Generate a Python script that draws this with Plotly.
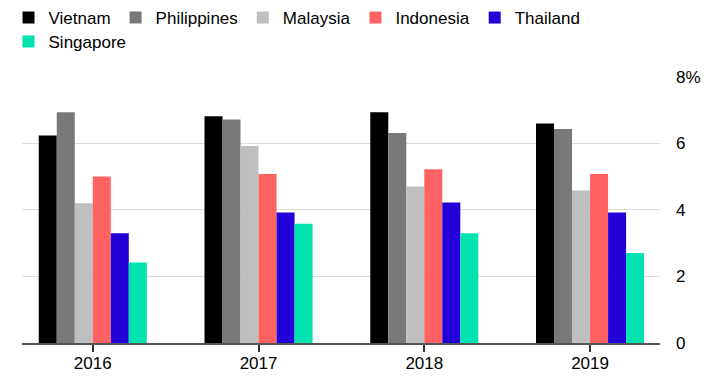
import plotly.graph_objects as go

years = ["2016", "2017", "2018", "2019"]
countries = ["Vietnam", "Philippines", "Malaysia", "Indonesia", "Thailand", "Singapore"]
vietnam = [6.23, 6.81, 6.93, 6.59]
philippines = [6.93, 6.71, 6.31, 6.43]
malaysia = [4.2, 5.92, 4.7, 4.58]
indonesia = [5.0, 5.08, 5.22, 5.08]
thailand = [3.3, 3.92, 4.22, 3.92]
singapore = [2.42, 3.58, 3.3, 2.7]
colors = ["#000000", "#787878", "#bfbfbf", "#ff6262", "#2400d8", "#00e3b0"]
y_tickvals = [0, 2, 4, 6, 8]
y_ticktext = ["0", "2", "4", "6", "8%"]

series = [vietnam, philippines, malaysia, indonesia, thailand, singapore]
FONT = "Liberation Sans, Arial, Helvetica, sans-serif"

fig = go.Figure()
for name, vals, col in zip(countries, series, colors):
    fig.add_trace(go.Bar(
        x=years, y=vals, name=name, marker=dict(color=col, line=dict(width=0)),
        legend="legend2" if name == "Singapore" else "legend",
    ))

fig.update_layout(
    width=710, height=388,
    margin=dict(l=22, r=50, t=76, b=45, autoexpand=False),
    paper_bgcolor="white", plot_bgcolor="white",
    barmode="group", bargap=0.348, bargroupgap=0,
    font=dict(family=FONT, size=17, color="#000000"),
    showlegend=True,
    legend=dict(orientation="h", xref="container", yref="container",
                x=0.012, y=1.0, xanchor="left", yanchor="top",
                font=dict(size=17), itemclick=False, traceorder="normal",
                bgcolor="rgba(0,0,0,0)", borderwidth=0),
    legend2=dict(orientation="h", xref="container", yref="container",
                 x=0.012, y=0.938, xanchor="left", yanchor="top",
                 font=dict(size=17), bgcolor="rgba(0,0,0,0)", borderwidth=0),
    xaxis=dict(type="category", range=[-0.427, 3.422], showgrid=False,
               showline=True, linecolor="#555555", linewidth=2,
               ticks="outside", ticklen=7, tickwidth=1.5, tickcolor="#333333",
               ticklabelstandoff=-3,
               tickfont=dict(size=17), zeroline=False, automargin=False),
    yaxis=dict(side="right", range=[0, 8.02], tickvals=y_tickvals, ticktext=y_ticktext,
               showgrid=True, gridcolor="#dddddd", gridwidth=1,
               zeroline=False, showline=False, ticks="",
               ticklabelstandoff=15, tickfont=dict(size=17), automargin=False),
)

fig.write_html("out.html", config={"displayModeBar": False},
               post_script="document.body.style.margin='0';")
